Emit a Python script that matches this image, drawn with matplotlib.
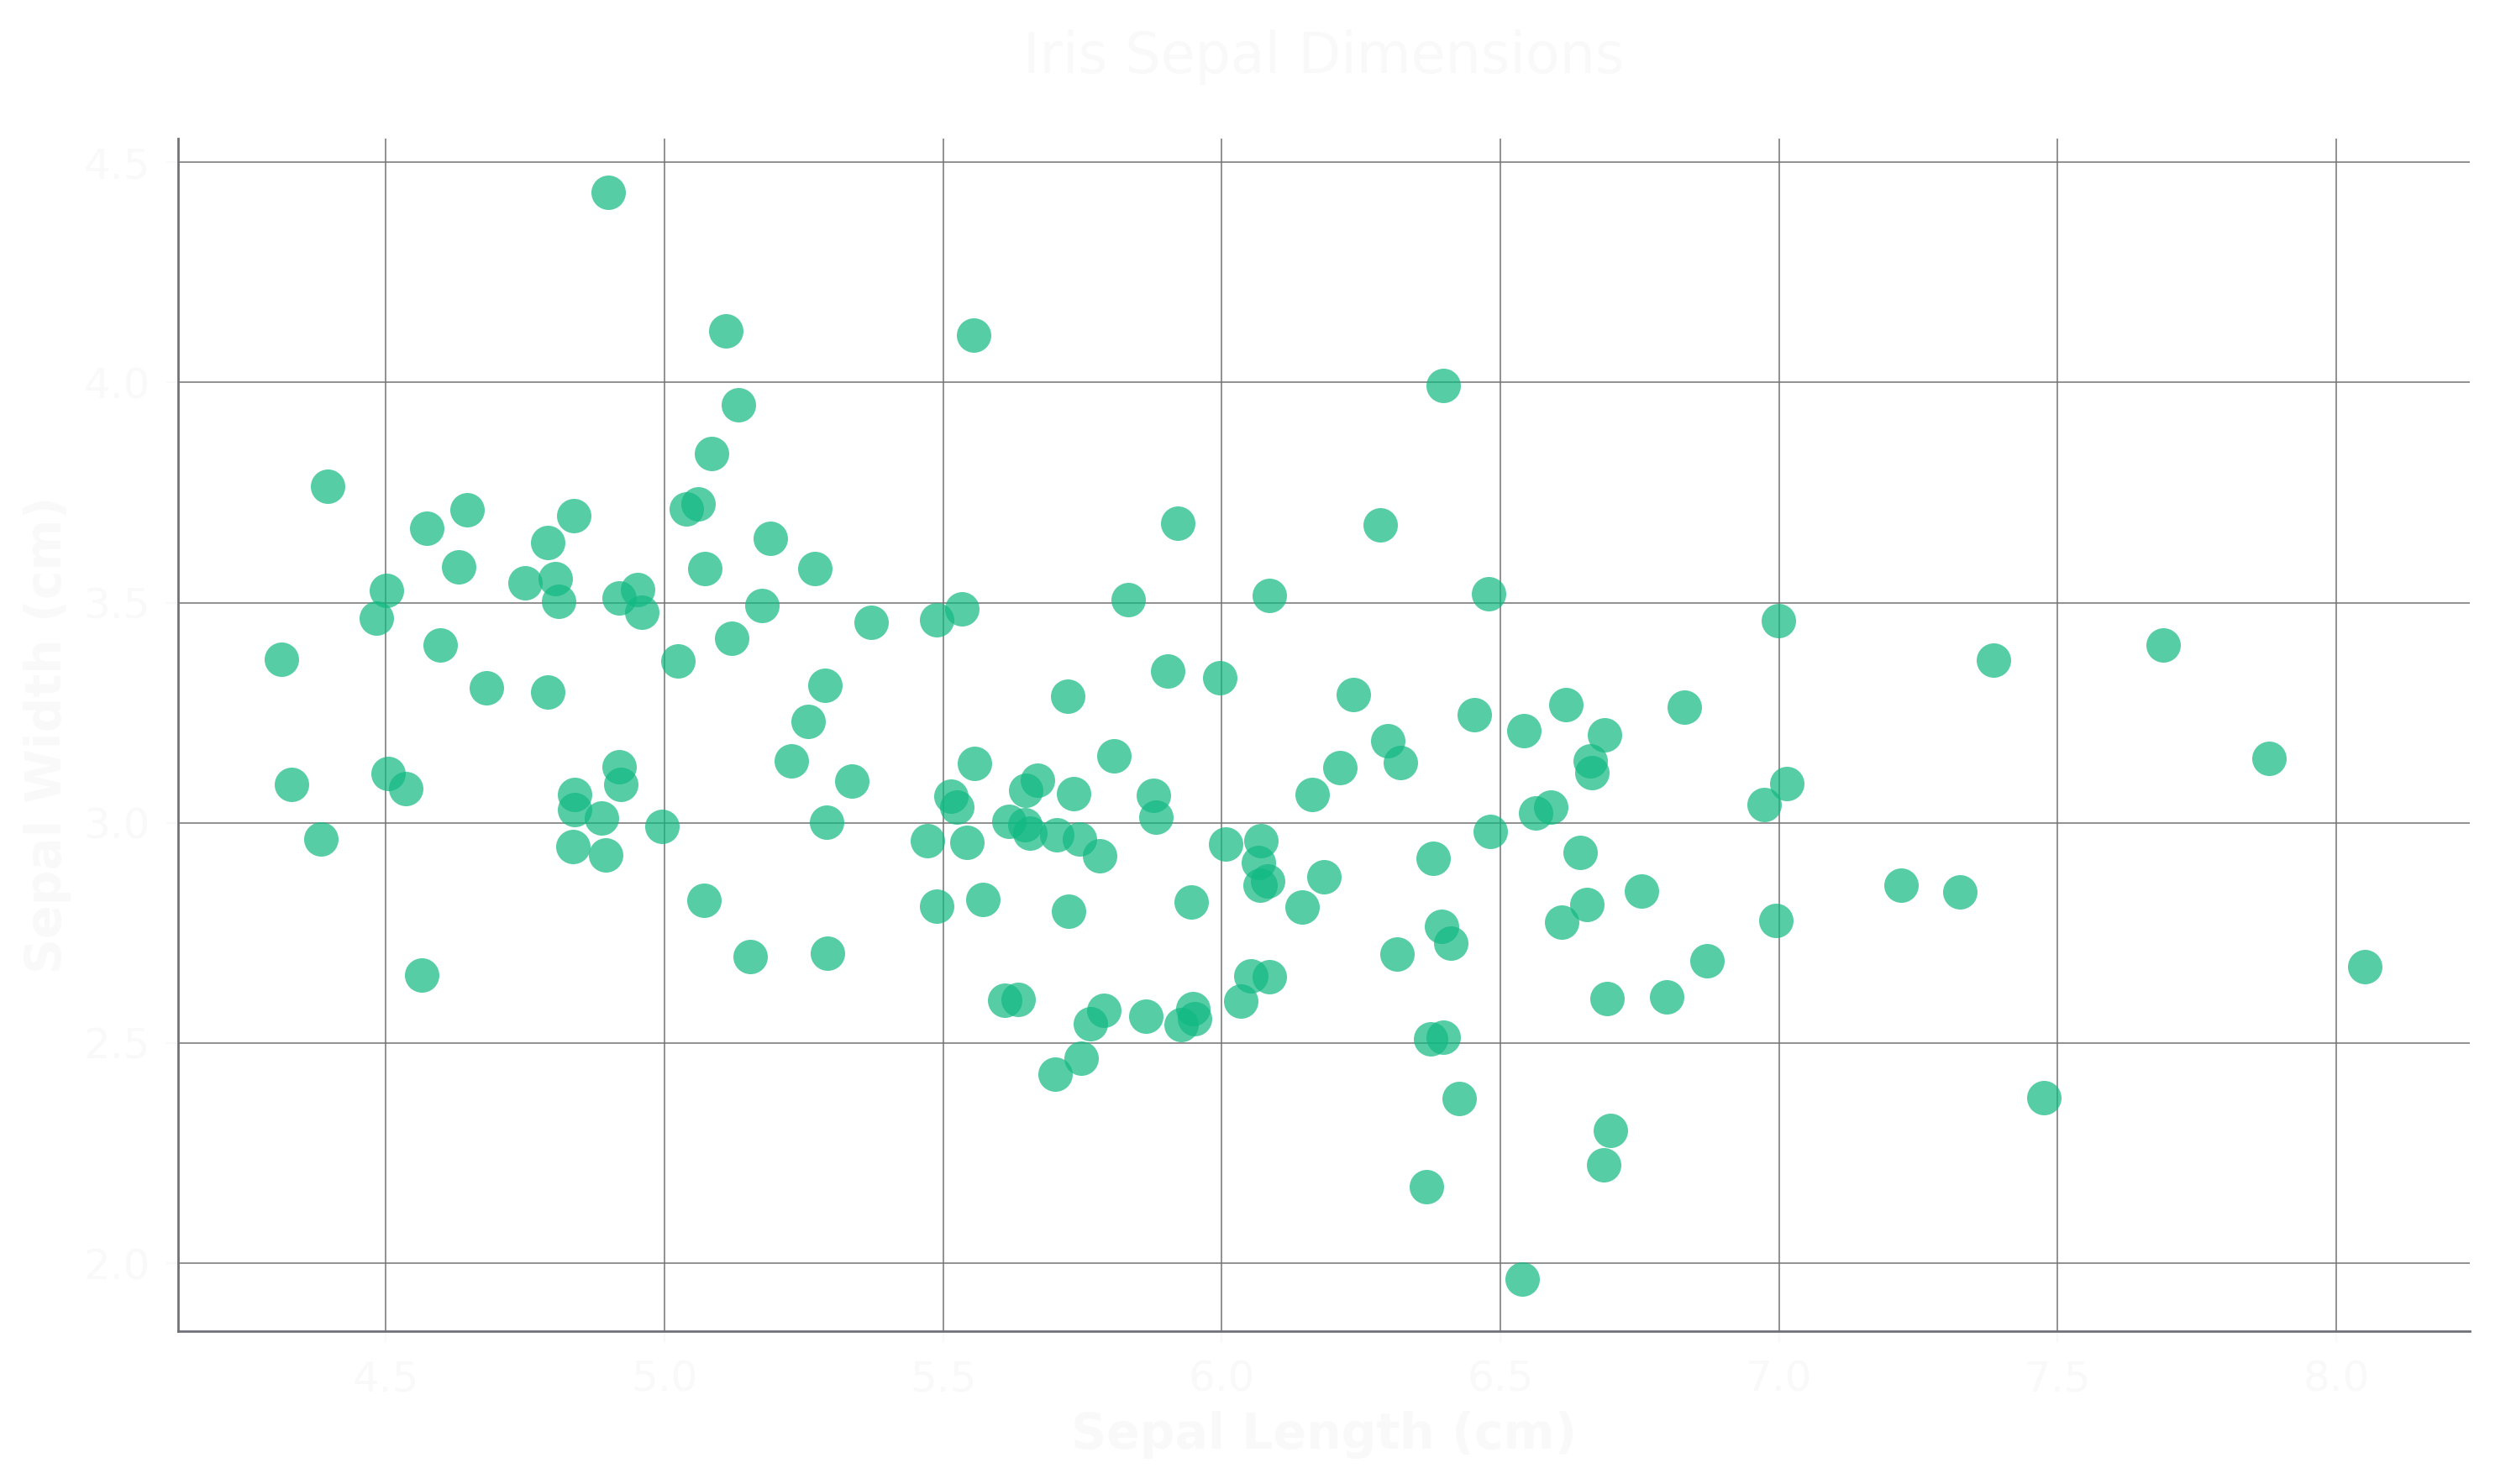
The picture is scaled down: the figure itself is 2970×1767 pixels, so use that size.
import matplotlib
matplotlib.use("Agg")
import matplotlib.pyplot as plt

sepal_length = [
    4.899, 5.110, 5.133, 5.084, 4.396, 5.039, 5.060, 4.646, 4.573, 4.837,
    4.790, 5.190, 4.630, 5.073, 5.270, 4.501, 4.749, 4.804, 4.810, 4.919,
    4.951, 4.959, 5.175, 4.482, 5.371, 5.489, 5.534, 4.597, 5.120, 4.313,
    5.024, 4.681, 4.790, 5.288, 5.258, 4.330, 4.504, 4.535, 4.383, 5.227,
    5.336, 5.291, 4.919, 4.922, 4.838, 4.838, 4.887, 4.835, 4.894, 4.996,
    5.070, 5.154, 5.293, 4.564, 5.489, 5.472, 5.554, 6.398, 5.921, 6.284,
    5.832, 6.086, 6.479, 5.903, 5.996, 5.723, 6.236, 6.453, 6.617, 6.831,
    6.542, 6.687, 6.298, 6.320, 6.212, 6.163, 5.807, 5.556, 5.670, 5.648,
    5.734, 5.514, 5.524, 5.878, 5.882, 5.618, 5.646, 5.656, 5.704, 5.744,
    5.781, 5.543, 5.572, 5.725, 5.945, 6.007, 6.071, 6.066, 6.069, 6.082,
    6.183, 6.144, 6.379, 6.482, 6.563, 6.591, 6.661, 6.664, 6.644, 6.754,
    6.655, 6.610, 6.394, 6.411, 6.314, 6.691, 6.799, 6.052, 6.086, 6.034,
    5.610, 5.634, 5.789, 5.765, 5.864, 5.948, 5.951, 5.927, 5.748, 5.701,
    6.375, 6.398, 6.426, 6.698, 6.685, 6.367, 6.539, 6.999, 7.385, 7.689,
    7.014, 6.974, 7.880, 7.220, 7.325, 6.994, 6.871, 8.052, 7.476,
]
sepal_width = [
    4.432, 4.118, 3.950, 3.839, 3.764, 3.713, 3.724, 3.711, 3.669, 3.698,
    3.636, 3.647, 3.581, 3.577, 3.577, 3.527, 3.545, 3.554, 3.503, 3.510,
    3.529, 3.479, 3.493, 3.464, 3.456, 3.462, 3.486, 3.403, 3.420, 3.371,
    3.368, 3.306, 3.298, 3.313, 3.230, 3.087, 3.112, 3.077, 2.964, 3.140,
    3.094, 3.001, 3.127, 3.088, 3.064, 3.030, 3.010, 2.946, 2.927, 2.992,
    2.824, 2.696, 2.703, 2.655, 2.810, 2.959, 4.107, 3.993, 3.680, 3.676,
    3.506, 3.516, 3.520, 3.345, 3.329, 3.287, 3.292, 3.246, 3.269, 3.262,
    3.210, 3.200, 3.187, 3.137, 3.125, 3.064, 3.152, 3.135, 3.097, 3.074,
    3.067, 3.061, 3.036, 3.062, 3.012, 3.003, 2.996, 2.976, 2.972, 2.964,
    2.925, 2.956, 2.826, 2.800, 2.821, 2.952, 2.959, 2.910, 2.859, 2.868,
    2.877, 2.809, 2.919, 2.980, 3.022, 3.036, 3.141, 3.114, 2.933, 2.845,
    2.814, 2.774, 2.765, 2.726, 2.702, 2.600, 2.605, 2.652, 2.650, 2.596,
    2.597, 2.598, 2.574, 2.543, 2.560, 2.578, 2.555, 2.542, 2.466, 2.429,
    2.509, 2.513, 2.374, 2.301, 2.223, 2.173, 1.964, 3.459, 3.370, 3.403,
    3.089, 3.041, 3.147, 2.858, 2.843, 2.778, 2.687, 2.673, 2.376,
]

x_ticks = [4.5, 5.0, 5.5, 6.0, 6.5, 7.0, 7.5, 8.0]
y_ticks = [2.0, 2.5, 3.0, 3.5, 4.0, 4.5]

text_col = "#f9f9f9"
spine_col = "#71717a"

fig = plt.figure(figsize=(14.85, 8.835), dpi=200)
ax = fig.add_axes([0.0714, 0.103, 0.9185, 0.8036])

ax.scatter(sepal_length, sepal_width, s=218, color="#10b981", alpha=0.7,
           linewidths=0)

ax.set_xticks(x_ticks)
ax.set_yticks(y_ticks)
ax.set_xlim(4.127, 8.24)
ax.set_ylim(1.8455, 4.554)

ax.set_axisbelow(True)
ax.grid(True, color="#737373", linewidth=0.55)

for side in ["top", "right"]:
    ax.spines[side].set_visible(False)
for side in ["left", "bottom"]:
    ax.spines[side].set_color(spine_col)
    ax.spines[side].set_linewidth(1.0)

ax.tick_params(axis="both", colors=text_col, labelsize=18, length=5,
               width=0.8, pad=7)

ax.set_xlabel("Sepal Length (cm)", fontsize=21, fontweight="bold",
              color=text_col, labelpad=5)
ax.set_ylabel("Sepal Width (cm)", fontsize=21, fontweight="bold",
              color=text_col, labelpad=5)
ax.set_title("Iris Sepal Dimensions", fontsize=24, color=text_col, pad=28)

fig.savefig("out.png", dpi=200, facecolor="white")
